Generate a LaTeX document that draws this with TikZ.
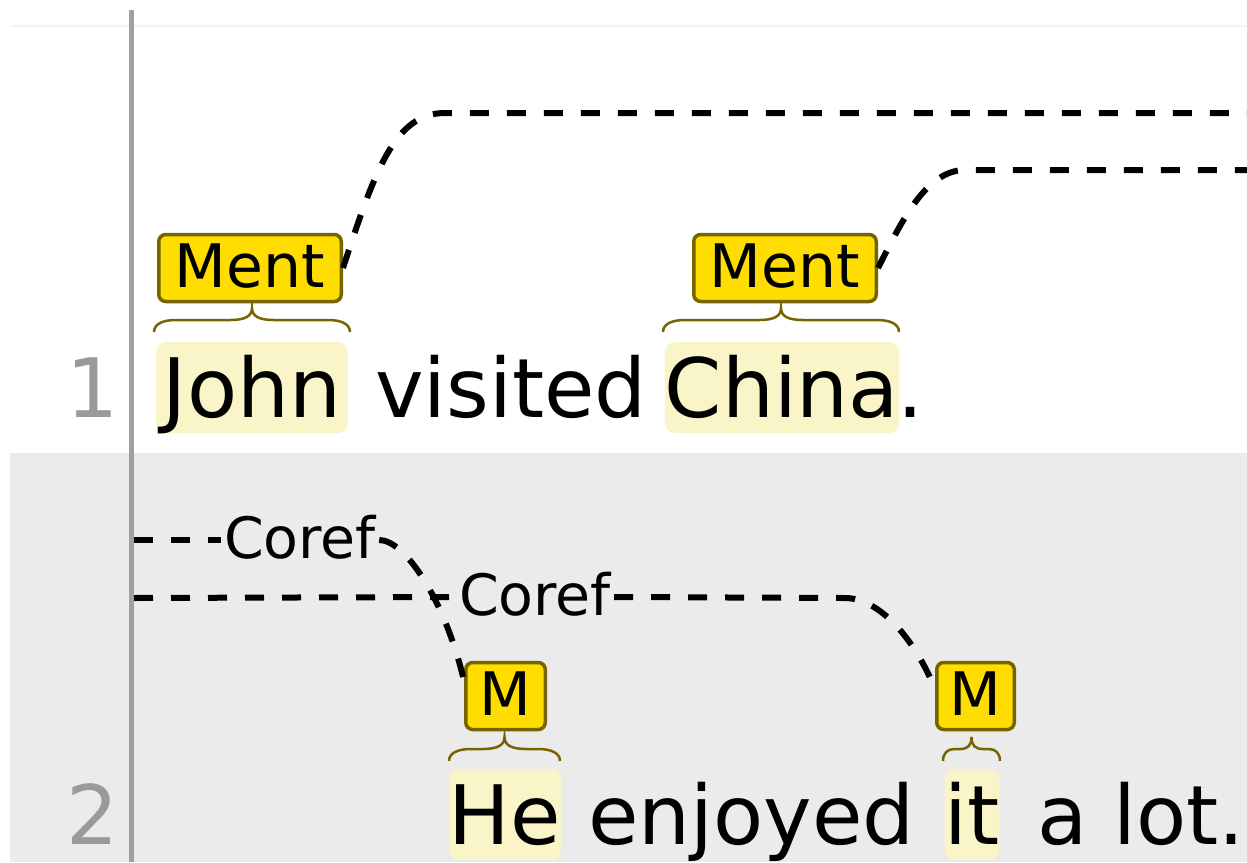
\documentclass[tikz,border=0pt]{standalone}
\usepackage{fontspec}
\setmainfont{DejaVu Sans}

\definecolor{spanfill}{HTML}{FFDD00}
\definecolor{spanedge}{HTML}{756500}
\definecolor{hlfill}{HTML}{F9F5C9}
\definecolor{rowgray}{HTML}{EBEBEB}
\definecolor{rulegray}{HTML}{A0A0A0}
\definecolor{numgray}{HTML}{9A9A9A}
\definecolor{topline}{HTML}{F3F3F3}

% curly brace over a span: left x, right x, y of the tip
\newcommand\spanbrace[3]{%
  \pgfmathsetmacro\bmid{(#1+#2)/2}%
  \pgfmathsetmacro\bq{min(22,(#2-#1)/5)}%
  \draw[bracepath] (#1,#3+24)
    .. controls (#1,#3+16) and (#1+0.4*\bq,#3+12) .. (#1+\bq,#3+12)
    -- (\bmid-\bq,#3+12)
    .. controls (\bmid-0.3*\bq,#3+12) and (\bmid,#3+8) .. (\bmid,#3)
    .. controls (\bmid,#3+8) and (\bmid+0.3*\bq,#3+12) .. (\bmid+\bq,#3+12)
    -- (#2-\bq,#3+12)
    .. controls (#2-0.4*\bq,#3+12) and (#2,#3+16) .. (#2,#3+24);}

\begin{document}
\begin{tikzpicture}[x=1pt,y=-1pt,
  word/.style={inner sep=0pt, anchor=base west, font=\fontsize{82}{98}\selectfont},
  hl/.style={fill=hlfill, rounded corners=10pt, inner sep=0pt, text height=75pt,
    text depth=16pt, anchor=base, font=\fontsize{82}{98}\selectfont},
  spanlbl/.style={draw=spanedge, line width=3.5pt, fill=spanfill, rounded corners=7pt,
    inner sep=0pt, text height=52.5pt, text depth=14.5pt, anchor=base,
    font=\fontsize{60}{72}\selectfont},
  arclbl/.style={inner xsep=3pt, inner ysep=0pt, text height=36pt, text depth=0pt,
    anchor=base, font=\fontsize{57}{68}\selectfont},
  arcline/.style={line width=6pt, dash pattern=on 19pt off 18pt},
  bracepath/.style={draw=spanedge, line width=2.5pt},
  rownum/.style={inner sep=0pt, anchor=base east, text=numgray,
    font=\fontsize{82}{98}\selectfont}]

\useasboundingbox (0,0) rectangle (1247,862);

% sentence rows
\fill[white] (0,0) rectangle (1247,453);
\fill[rowgray] (10,453) rectangle (1247,862);
\draw[topline, line width=1.5pt] (10,26) -- (1247,26);
\draw[rulegray, line width=5pt] (131,10) -- (131,862);

% row numbers
\node[rownum] (n1) at (119,417) {1};
\node[rownum] (n2) at (119,844) {2};

% sentence 1
\node[hl, minimum width=192pt] (john) at (252,417) {John};
\node[word] (visited) at (375,417) {visited};
\node[hl, minimum width=232pt] (china) at (782,417) {China};
\node[word] (dot1) at (897,417) {.};

% sentence 2
\node[hl, minimum width=108pt] (he) at (505,844) {He};
\node[word] (enjoyed) at (588,844) {enjoyed};
\node[hl, minimum width=54pt] (it) at (972,844) {it};
\node[word] (alot) at (1037,844) {a lot.};

% span braces
\spanbrace{154}{350}{308}
\spanbrace{663}{899}{308}
\spanbrace{449}{560}{737}
\spanbrace{943}{1000}{737}

% span labels
\node[spanlbl, minimum width=182.5pt] (mj) at (250,287) {Ment};
\node[spanlbl, minimum width=182.5pt] (mc) at (785,287) {Ment};
\node[spanlbl, minimum width=79.5pt] (mhe) at (505.5,715) {M};
\node[spanlbl, minimum width=77.5pt] (mit) at (975.5,715) {M};

% arc labels
\node[arclbl] (coref1) at (300,558) {Coref};
\node[arclbl] (coref2) at (535,615) {Coref};

% arc ends outside the view
\coordinate (ra) at (1247,113);
\coordinate (rb) at (1247,170);
\coordinate (la) at (134,540);
\coordinate (lb) at (134,598);

% arcs of sentence 1
\draw[arcline] (mj.east) .. controls (375,170) and (395,113) .. (445,113) -- (ra);
\draw[arcline] (mc.east) .. controls (900,225) and (925,170) .. (965,170) -- (rb);

% arcs of sentence 2
\draw[arcline] (la) -- (coref1.west);
\draw[arcline] (coref1.east) .. controls (405,540) and (445,600) .. (mhe.160);
\draw[arcline] (lb) -- (coref2.west);
\draw[arcline] (coref2.east) -- (845,598) .. controls (880,598) and (915,640) .. (mit.170);
\end{tikzpicture}
\end{document}
